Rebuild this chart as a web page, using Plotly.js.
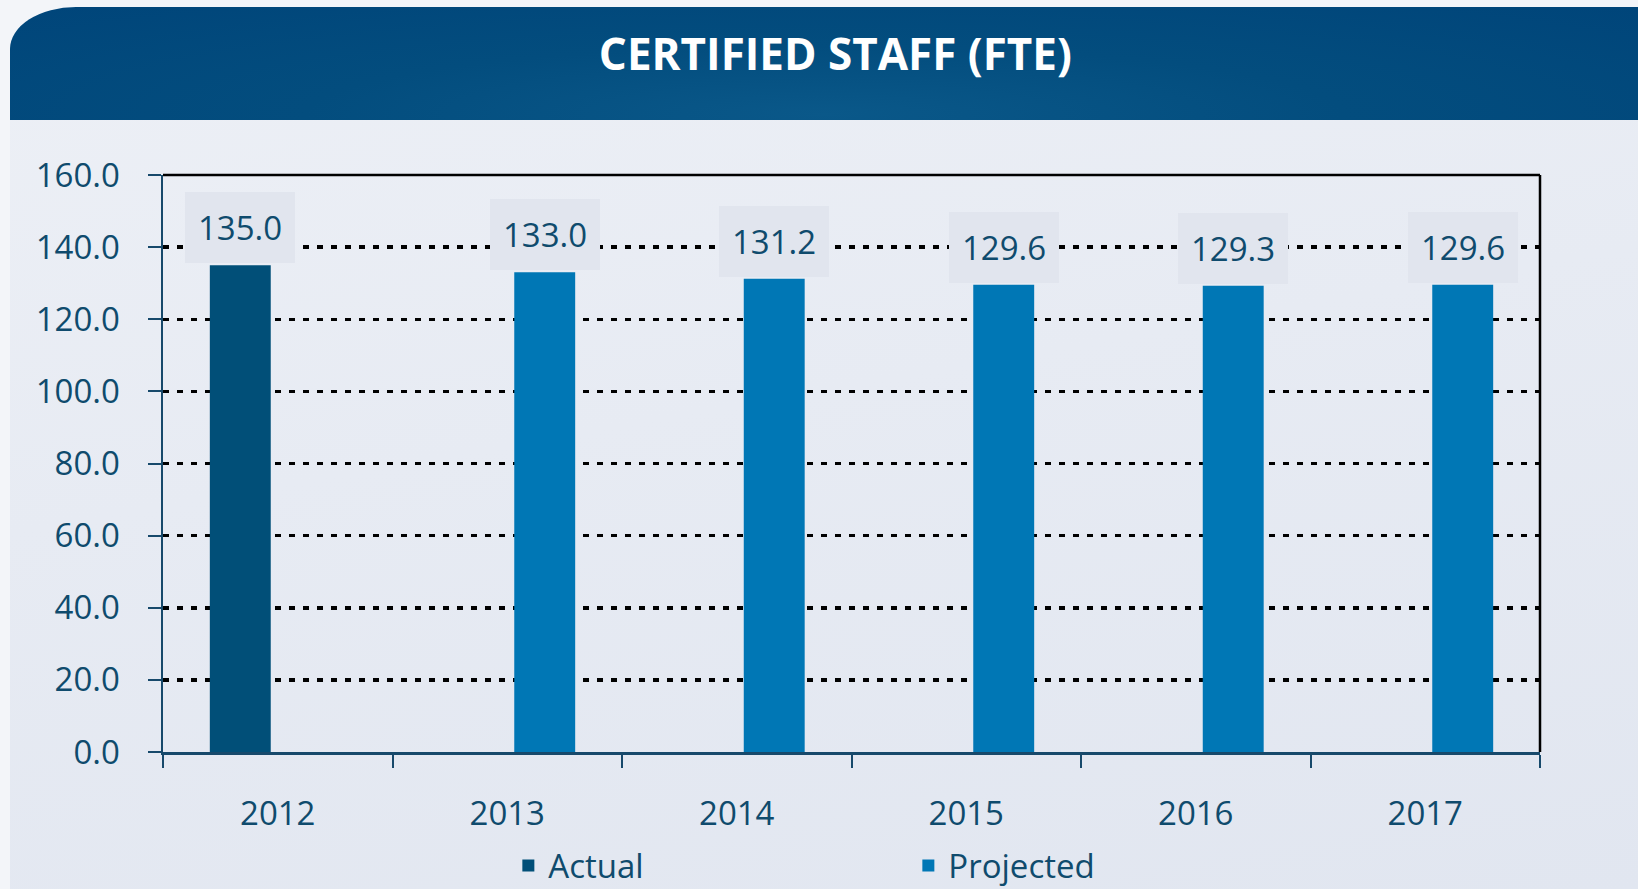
<!DOCTYPE html>
<html>
<head>
<meta charset="utf-8">
<script src="https://cdn.plot.ly/plotly-3.0.1.min.js"></script>
<style>
  html, body { margin: 0; padding: 0; width: 1638px; height: 889px; overflow: hidden; background: #f3f5f9; }
  #panel { position: absolute; left: 10px; top: 7px; width: 1628px; height: 882px;
    border-top-left-radius: 66px 42px; overflow: hidden;
    background: linear-gradient(170deg, #edf0f6 0%, #e7ebf3 45%, #e1e6f0 100%); }
  #banner { position: absolute; left: 0; top: 0; width: 100%; height: 113px;
    background: radial-gradient(ellipse at 50% 95%, #0a5889 0%, #034d7e 45%, #00457a 100%); }
  #chart { position: absolute; left: 0; top: 0; width: 1638px; height: 889px; }
</style>
</head>
<body>
<div id="panel"><div id="banner"></div></div>
<div id="chart"></div>
<script>
const years = ['2012', '2013', '2014', '2015', '2016', '2017'];
const actual = [135.0, null, null, null, null, null];
const projected = [null, 133.0, 131.2, 129.6, 129.3, 129.6];
const yTicks = [0, 20, 40, 60, 80, 100, 120, 140, 160];

const textColor = '#0f4b6d';
const axisColor = '#17496b';
const font = 'Open Sans, Lato, sans-serif';

const traces = [
  { type: 'bar', name: 'Actual', x: years, y: actual, marker: { color: '#014f78' }, hoverinfo: 'x+y' },
  { type: 'bar', name: 'Projected', x: years, y: projected, marker: { color: '#0077b5' }, hoverinfo: 'x+y' }
];

const annotations = [];
[[actual, -37.5], [projected, 37.5]].forEach(([series, shift]) => {
  series.forEach((v, i) => {
    if (v === null) return;
    annotations.push({
      x: i, y: v, xref: 'x', yref: 'y', text: v.toFixed(1),
      showarrow: false, yanchor: 'bottom', xanchor: 'center', xshift: shift, yshift: 2,
      bgcolor: '#e1e5ee', borderpad: 13, borderwidth: 0,
      font: { family: font, size: 33, color: textColor }
    });
  });
});

const layout = {
  width: 1638, height: 889,
  paper_bgcolor: 'rgba(0,0,0,0)', plot_bgcolor: 'rgba(0,0,0,0)',
  margin: { l: 162.5, r: 98, t: 175, b: 137, autoexpand: false },
  title: {
    text: '<b>CERTIFIED STAFF (FTE)</b>', xref: 'container', yref: 'container',
    x: 0.51, xanchor: 'center', y: 1 - 55 / 889, yanchor: 'middle',
    font: { family: font, size: 44, color: '#ffffff' }
  },
  barmode: 'group', bargap: 0.347, bargroupgap: 0.187,
  showlegend: true,
  legend: {
    orientation: 'h', x: 0.2508, xanchor: 'left', y: -0.197, yanchor: 'middle',
    entrywidth: 355, font: { family: font, size: 33, color: textColor },
    bgcolor: 'rgba(0,0,0,0)', traceorder: 'normal'
  },
  xaxis: {
    type: 'category', categoryorder: 'array', categoryarray: years, range: [-0.5, 5.5],
    tickson: 'boundaries', ticks: 'outside', ticklen: 13, tickwidth: 2,
    tickcolor: axisColor, showline: true, linecolor: axisColor, linewidth: 2.5,
    showgrid: false, ticklabelstandoff: 31, tickangle: 0,
    tickfont: { family: font, size: 33, color: textColor }, fixedrange: true
  },
  yaxis: {
    range: [0, 160], tickvals: yTicks, tickformat: '.1f', ticks: 'outside', ticklen: 13, tickwidth: 2,
    tickcolor: axisColor, showline: true, linecolor: axisColor, linewidth: 2.5,
    showgrid: true, gridcolor: '#000000', gridwidth: 3.5, griddash: '6px,8px', zeroline: false,
    ticklabelstandoff: 21,
    tickfont: { family: font, size: 33, color: textColor }, fixedrange: true
  },
  shapes: [
    { type: 'line', xref: 'paper', yref: 'paper', x0: 0, x1: 1, y0: 1, y1: 1, line: { color: '#000000', width: 2.5 } },
    { type: 'line', xref: 'paper', yref: 'paper', x0: 1, x1: 1, y0: 0, y1: 1, line: { color: '#000000', width: 2.5 } }
  ],
  annotations: annotations
};

Plotly.newPlot('chart', traces, layout, { displayModeBar: false, staticPlot: true });
</script>
</body>
</html>
